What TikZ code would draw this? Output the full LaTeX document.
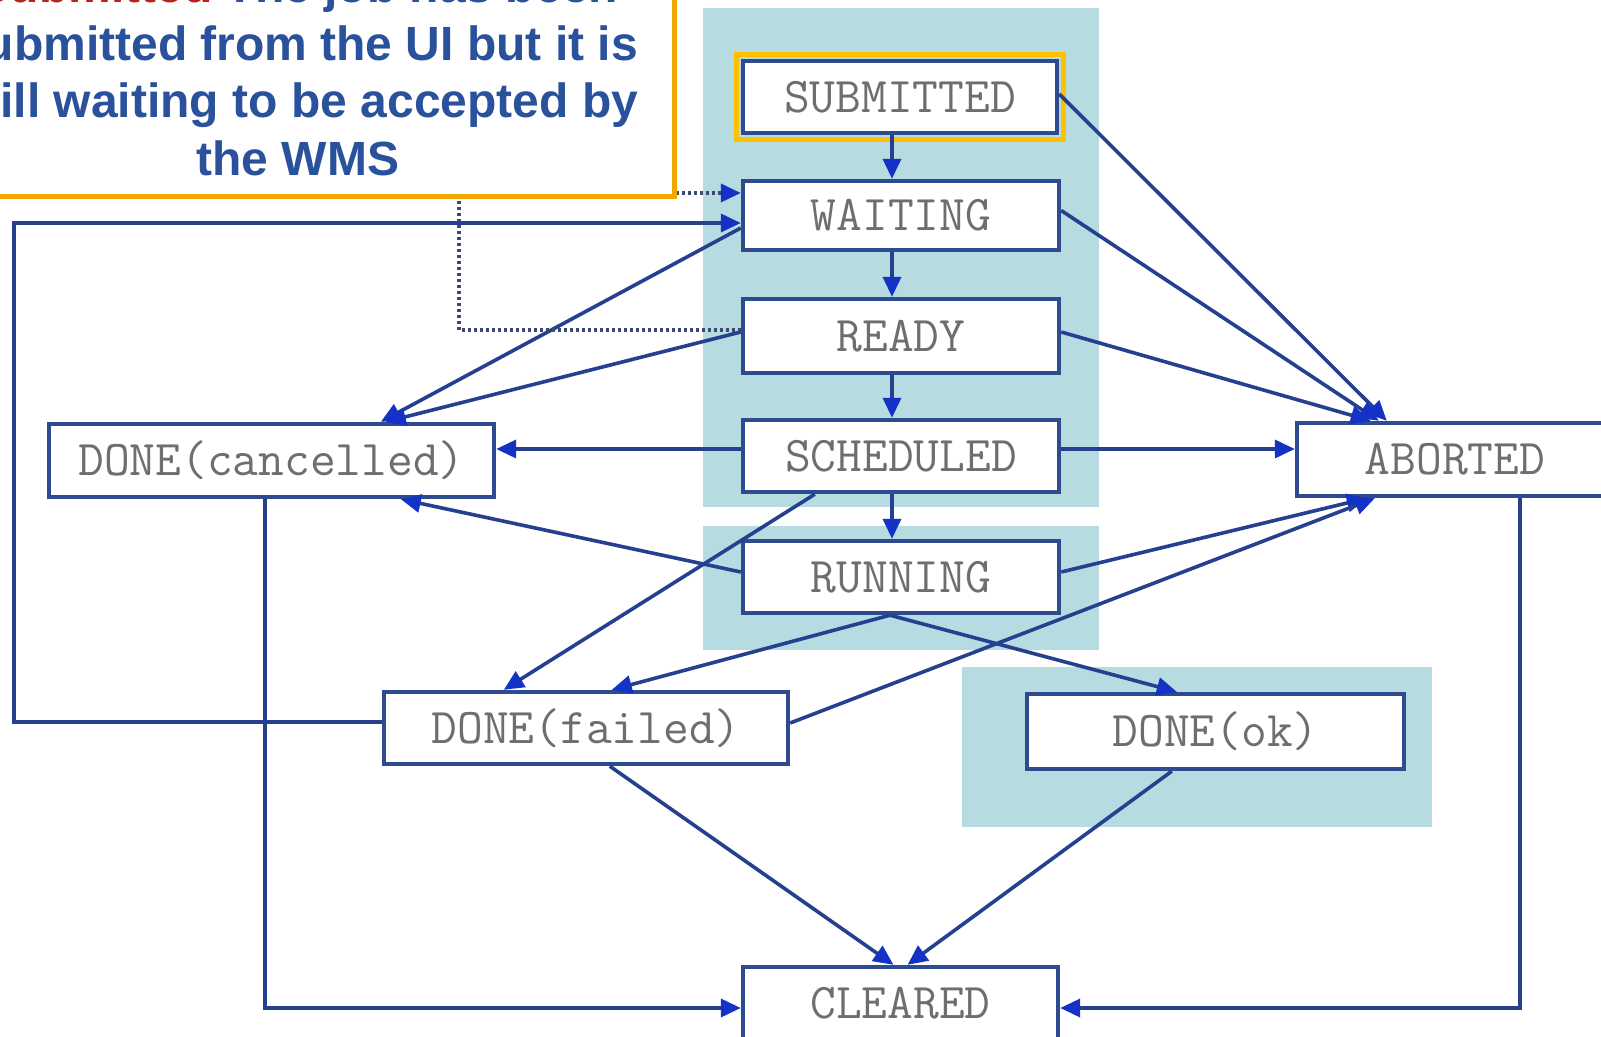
\documentclass[tikz,border=0pt]{standalone}
\usepackage{fontspec}
\setmainfont{Liberation Sans}
\usetikzlibrary{arrows.meta,calc}

\definecolor{panel}{HTML}{B6DCE1}
\definecolor{boxline}{HTML}{2D4B8E}
\definecolor{linkline}{HTML}{24408E}
\definecolor{tipblue}{HTML}{1432C6}
\definecolor{statetext}{HTML}{6E6E6E}
\definecolor{noteblue}{HTML}{2A519B}
\definecolor{notered}{HTML}{B8221C}
\definecolor{noteframe}{HTML}{F0A800}
\definecolor{hilite}{HTML}{FFC000}
\definecolor{dotline}{HTML}{3C4A72}

\tikzset{
  state/.style={draw=boxline, line width=2.2pt, fill=white, inner sep=0pt,
    font=\ttfamily\fontsize{25}{25}\selectfont, text=statetext},
  conn/.style={draw=linkline, line width=1.8pt,
    -{Triangle[length=10pt,width=9pt,color=tipblue]}},
  resub/.style={draw=dotline, line width=1.8pt, dash pattern=on 1.5pt off 1.5pt,
    -{Triangle[length=10pt,width=9pt,color=tipblue]}},
  notebox/.style={draw=noteframe, line width=2.5pt, fill=white},
  notetext/.style={font=\bfseries\fontsize{24}{28.75}\selectfont, text=noteblue,
    align=center, inner sep=0pt},
  hiliteframe/.style={draw=hilite, line width=2.5pt}
}

\begin{document}
\begin{tikzpicture}[x=0.5pt,y=-0.5pt]
\useasboundingbox (0,0) rectangle (1601,1037);
\clip (0,0) rectangle (1601,1037);
\fill[white] (0,0) rectangle (1601,1037);

% shaded groups of states
\fill[panel] (703,8) rectangle (1099,507);
\fill[panel] (703,526) rectangle (1099,650);
\fill[panel] (962,667) rectangle (1432,827);

% states
\node[state, minimum width=157pt, minimum height=36pt] (sub) at (900,97) {SUBMITTED};
\node[state, minimum width=158pt, minimum height=34.5pt] (wait) at (901,215.5) {WAITING};
\node[state, minimum width=158pt, minimum height=37pt] (ready) at (901,336) {READY};
\node[state, minimum width=158pt, minimum height=36pt] (sched) at (901,456) {SCHEDULED};
\node[state, minimum width=158pt, minimum height=36pt] (run) at (901,577) {RUNNING};
\node[state, minimum width=222.5pt, minimum height=36.5pt] (cancel) at (271.5,460.5) {DONE(cancelled)};
\node[state, minimum width=158pt, minimum height=36.5pt] (abort) at (1455,459.5) {ABORTED};
\node[state, minimum width=202pt, minimum height=36pt] (failed) at (586,728) {DONE(failed)};
\node[state, minimum width=188.5pt, minimum height=37.5pt] (ok) at (1215.5,731.5) {DONE(ok)};
\node[state, minimum width=157.5pt, minimum height=36pt] (cleared) at (900.5,1003) {CLEARED};

\draw[hiliteframe] ($(sub.north west)+(-4,-4)$) rectangle ($(sub.south east)+(4,4)$);

% main chain
\coordinate (spine) at (892,0);
\draw[conn] (sub.south -| spine) -- (wait.north -| spine);
\draw[conn] (wait.south -| spine) -- (ready.north -| spine);
\draw[conn] (ready.south -| spine) -- (sched.north -| spine);
\draw[conn] (sched.south -| spine) -- (run.north -| spine);

% to ABORTED
\draw[conn] ($(sub.east)+(0,-3)$) -- ($(abort.north west)+(92,0)$);
\draw[conn] ($(wait.east)+(0,-5)$) -- ($(abort.north west)+(84,0)$);
\draw[conn] ($(ready.east)+(0,-4)$) -- ($(abort.north west)+(76,0)$);
\draw[conn] ($(sched.east)+(0,-7)$) -- ($(abort.west)+(0,-10.5)$);
\draw[conn] ($(run.east)+(0,-5)$) -- ($(abort.south west)+(72,0)$);
\draw[conn] ($(failed.east)+(0,-5)$) -- ($(abort.south west)+(80,0)$);

% to DONE(cancelled)
\draw[conn] ($(sched.west)+(0,-7)$) -- ($(cancel.east)+(0,-11.5)$);
\draw[conn] ($(wait.west)+(0,12.5)$) -- ($(cancel.north west)+(334,0)$);
\draw[conn] ($(ready.west)+(0,-4)$) -- ($(cancel.north west)+(339,0)$);
\draw[conn] ($(run.west)+(0,-5)$) -- ($(cancel.south west)+(354,0)$);

% to DONE(failed) and DONE(ok)
\draw[conn] ($(sched.south west)+(74,0)$) -- ($(failed.north west)+(122,0)$);
\draw[conn] ($(run.south)+(-11,0)$) -- ($(failed.north west)+(230,0)$);
\draw[conn] ($(run.south)+(-11,0)$) -- ($(ok.north west)+(152,0)$);

% to CLEARED
\draw[conn] ($(failed.south west)+(228,0)$) -- ($(cleared.north)+(-7,0)$);
\draw[conn] ($(ok.south west)+(147,0)$) -- ($(cleared.north)+(7,0)$);
\draw[conn] ($(cancel.south west)+(218,0)$) |- ($(cleared.west)+(0,5)$);
\draw[conn] ($(abort.south west)+(225,0)$) |- ($(cleared.east)+(0,5)$);

% resubmission loop
\coordinate (loopx) at (14,0);
\coordinate (fl) at ($(failed.west)+(0,-6)$);
\coordinate (wl) at ($(wait.west)+(0,7.5)$);
\draw[conn] (fl) -- (fl -| loopx) -- (wl -| loopx) -- (wl);

\coordinate (dotx) at (459,0);
\coordinate (rl) at ($(ready.west)+(0,-6)$);
\coordinate (wt) at ($(wait.west)+(0,-22.5)$);
\draw[resub] (rl) -- (rl -| dotx) -- (wt -| dotx) -- (wt);

% explanatory note
\draw[notebox] (-82,-60) rectangle (674,197);
\node[notetext, anchor=south] (note) at (298,176)
  {\textcolor{notered}{Submitted} The job has been\\
   submitted from the UI but it is\\
   still waiting to be accepted by\\
   the WMS};
\end{tikzpicture}
\end{document}
